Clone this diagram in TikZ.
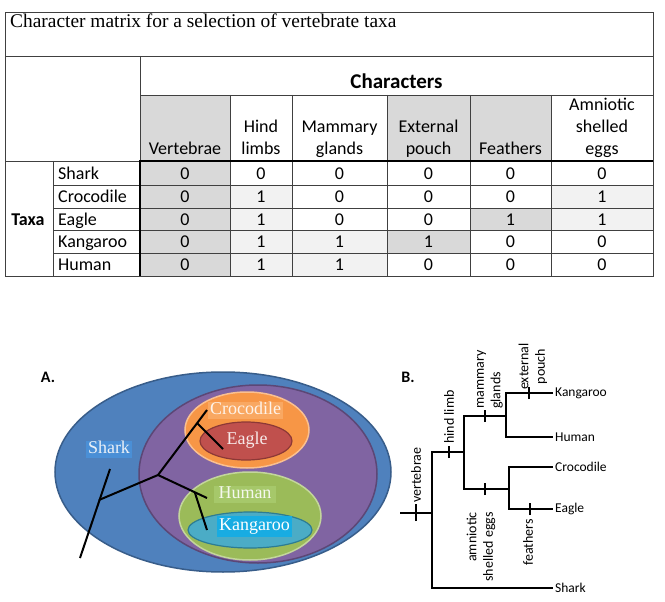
\documentclass[tikz,border=0pt]{standalone}
\usepackage{fontspec}
\setmainfont{Carlito}
\newfontfamily\ttlserif{Liberation Serif}
\usepackage{tikz}

\definecolor{cellgray}{HTML}{D9D9D9}
\definecolor{celllight}{HTML}{F2F2F2}
\definecolor{gridline}{HTML}{404040}
\definecolor{sharkblue}{HTML}{4F81BD}
\definecolor{sharkedge}{HTML}{385D8A}
\definecolor{tetrapurple}{HTML}{8064A2}
\definecolor{tetraedge}{HTML}{5C4776}
\definecolor{crocorange}{HTML}{F79646}
\definecolor{crocedge}{HTML}{FAC090}
\definecolor{eaglered}{HTML}{C0504D}
\definecolor{eagleedge}{HTML}{8C3836}
\definecolor{mammalgreen}{HTML}{9BBB59}
\definecolor{mammaledge}{HTML}{C3D69B}
\definecolor{kangcyan}{HTML}{4BACC6}
\definecolor{kangedge}{HTML}{2C7C93}
\definecolor{sharkbox}{HTML}{4A8FD6}
\definecolor{crocbox}{HTML}{F9A862}
\definecolor{humanbox}{HTML}{A6C86A}
\definecolor{kangbox}{HTML}{18ACE2}

\tikzset{
  rule/.style={draw=gridline, line width=0.8pt},
  thickrule/.style={draw=black, line width=2.6pt},
  cell/.style={font=\fontsize{18}{22}\selectfont, inner sep=0pt},
  head/.style={cell, align=center, anchor=south, execute at end node=\strut},
  vennlab/.style={font={\ttlserif\fontsize{18}{20}\selectfont}, inner xsep=2pt, inner ysep=1pt,
    text height=11.5pt, text depth=3.5pt},
  twig/.style={line width=2pt, black},
  branch/.style={line width=2.2pt, black},
  tick/.style={line width=1.2pt, black},
  tip/.style={font=\fontsize{13.5}{16}\selectfont, anchor=west, inner sep=2pt},
  trait/.style={font=\fontsize{14}{16.5}\selectfont, rotate=90, inner sep=1pt},
  panel/.style={font=\fontsize{16}{18}\selectfont\bfseries}
}

\begin{document}
\begin{tikzpicture}[x=1pt,y=-1pt]
  \useasboundingbox (0,0) rectangle (665,602);
  \fill[white] (0,0) rectangle (665,602);

  \fill[cellgray] (140,95) rectangle (230,276);
  \fill[cellgray] (387,95) rectangle (551,161);
  \fill[cellgray] (387,230) rectangle (470,253);
  \fill[cellgray] (470,208) rectangle (551,230);
  \fill[celllight] (230,185) rectangle (292,276);
  \fill[celllight] (292,230) rectangle (387,276);
  \fill[celllight] (551,185) rectangle (653,230);

  \draw[rule] (5,12) rectangle (653,276);
  \draw[rule] (5,56) -- (653,56);
  \draw[rule] (140,95) -- (653,95);
  \draw[rule] (5,161) -- (140,161);
  \draw[rule] (140,56) -- (140,161);
  \draw[rule] (53,161) -- (53,276);
  \foreach \y in {185,208,230,253} \draw[rule] (53,\y) -- (653,\y);
  \foreach \x in {230,292,387,470,551} \draw[rule] (\x,95) -- (\x,276);
  \draw[thickrule] (653,161) -- (140,161) -- (140,276);

  \node[font={\ttlserif\fontsize{19.4}{22}\selectfont}, anchor=base west, inner sep=0pt] (title) at (10,28)
    {Character matrix for a selection of vertebrate taxa};
  \node[cell, font=\fontsize{21}{24}\selectfont\bfseries, anchor=base] (chars) at (396.5,89) {Characters};

  \foreach \x/\txt [count=\c] in {185/Vertebrae, 261/Hind\\limbs, 339.5/Mammary\\glands,
      428.5/External\\pouch, 510.5/Feathers, 602/Amniotic\\shelled\\eggs}
    \node[head] (h\c) at (\x,161.5) {\txt};

  \node[cell, font=\fontsize{18}{22}\selectfont\bfseries, anchor=base] (taxa) at (28,225) {Taxa};

  \foreach \name/\y/\vals [count=\r] in {Shark/179/{0,0,0,0,0,0}, Crocodile/202.5/{0,1,0,0,0,1},
      Eagle/225/{0,1,0,0,1,1}, Kangaroo/247.5/{0,1,1,1,0,0}, Human/270.5/{0,1,1,0,0,0}} {
    \node[cell, anchor=base west] (t\r) at (58,\y) {\name};
    \foreach \v [count=\c] in \vals {
      \pgfmathsetmacro\cx{{185,261,339.5,428.5,510.5,602}[\c-1]}
      \node[cell, anchor=base] (v\r-\c) at (\cx,\y) {\v};
    }
  }

  \node[panel] (pa) at (48,377) {A.};
  \fill[sharkblue, draw=sharkedge, line width=1.5pt] (223,472) ellipse [x radius=168, y radius=100];
  \fill[tetrapurple, draw=tetraedge, line width=1.5pt] (258,474) ellipse [x radius=119, y radius=89];
  \fill[crocorange, draw=crocedge, line width=1.5pt] (247,430) ellipse [x radius=62, y radius=38];
  \fill[eaglered, draw=eagleedge, line width=1.2pt] (246,441) ellipse [x radius=46, y radius=19];
  \fill[mammalgreen, draw=mammaledge, line width=1.5pt] (250,516) ellipse [x radius=71, y radius=44];
  \fill[kangcyan, draw=kangedge, line width=1.2pt] (250,530) ellipse [x radius=62, y radius=18];

  \coordinate (sharkTip) at (80,558);
  \coordinate (sharkTop) at (110,469);
  \coordinate (j1) at (99,500);
  \coordinate (j2) at (158,475);
  \coordinate (crocTip) at (207,410);
  \coordinate (j3) at (197,423);
  \coordinate (eagleTip) at (223,449);
  \coordinate (humanTip) at (207,498);
  \coordinate (j4) at (195,493);
  \coordinate (kangTip) at (207,530);
  \draw[twig] (sharkTip) -- (sharkTop);
  \draw[twig] (j1) -- (j2);
  \draw[twig] (j2) -- (crocTip);
  \draw[twig] (j3) -- (eagleTip);
  \draw[twig] (j2) -- (humanTip);
  \draw[twig] (j4) -- (kangTip);

  \node[vennlab, fill=crocbox, text=crocorange!12!white] (vCroc) at (245.5,410.5) {Crocodile};
  \node[vennlab, text=eaglered!12!white] (vEagle) at (247,440) {Eagle};
  \node[vennlab, fill=sharkbox, text=sharkblue!12!white] (vShark) at (109,449) {Shark};
  \node[vennlab, inner xsep=5pt, fill=humanbox, text=mammalgreen!10!white] (vHuman) at (245,494) {Human};
  \node[vennlab, inner ysep=3pt, fill=kangbox, text=white] (vKang) at (254.5,526.5) {Kangaroo};

  \node[panel] (pb) at (408,377) {B.};
  \coordinate (root) at (400,513);
  \coordinate (vtJ) at (432,513);
  \coordinate (vtTop) at (432,452);
  \coordinate (hlJ) at (464,452);
  \coordinate (mmTop) at (464,416);
  \coordinate (amBot) at (464,489);
  \coordinate (mmJ) at (506,416);
  \coordinate (kgTop) at (506,393);
  \coordinate (huBot) at (506,437);
  \coordinate (amJ) at (509,489);
  \coordinate (crTop) at (509,467);
  \coordinate (eaBot) at (509,509);
  \coordinate (kgEnd) at (553,393);
  \coordinate (huEnd) at (553,437);
  \coordinate (crEnd) at (553,467);
  \coordinate (eaEnd) at (553,509);
  \coordinate (shEnd) at (553,588);

  \node[tip] (kangaroo) at (kgEnd) {Kangaroo};
  \node[tip] (human) at (huEnd) {Human};
  \node[tip] (crocodile) at (crEnd) {Crocodile};
  \node[tip] (eagle) at (eaEnd) {Eagle};
  \node[tip] (shark) at (shEnd) {Shark};

  \draw[branch] (root) -- (vtJ);
  \draw[branch] (hlJ) -- (vtTop) |- (shark.west);
  \draw[branch] (mmJ) -- (mmTop) -- (amBot) -- (amJ);
  \draw[branch] (kangaroo.west) -| (kgTop) -- (huBot) -- (human.west);
  \draw[branch] (crocodile.west) -| (crTop) -- (eaBot) -- (eagle.west);

  \coordinate (vtTick) at (416,513);
  \coordinate (hlTick) at (449,452);
  \coordinate (mmTick) at (485,416);
  \coordinate (epTick) at (529,393);
  \coordinate (amTick) at (485,489);
  \coordinate (feTick) at (530,509);
  \draw[tick] ([yshift=-8pt]vtTick) -- ([yshift=9pt]vtTick);
  \foreach \t in {hlTick,mmTick,epTick,amTick,feTick}
    \draw[tick] ([yshift=-6pt]\t) -- ([yshift=6pt]\t);

  \node[trait, anchor=west] (vtLab) at ([yshift=9pt]vtTick) {vertebrae};
  \node[trait, anchor=west] (hlLab) at ([yshift=7pt]hlTick) {hind limb};
  \node[trait, anchor=west, align=left] (mmLab) at ([xshift=5pt,yshift=6pt]mmTick) {mammary\\glands};
  \node[trait, anchor=west, align=center] (epLab) at ([xshift=4pt,yshift=2pt]epTick) {external\\pouch};
  \node[trait, anchor=east, align=right] (amLab) at ([xshift=-4pt,yshift=-22pt]amTick) {amniotic\\shelled eggs};
  \node[trait, anchor=east] (feLab) at ([xshift=-2pt,yshift=-9pt]feTick) {feathers};
\end{tikzpicture}
\end{document}
